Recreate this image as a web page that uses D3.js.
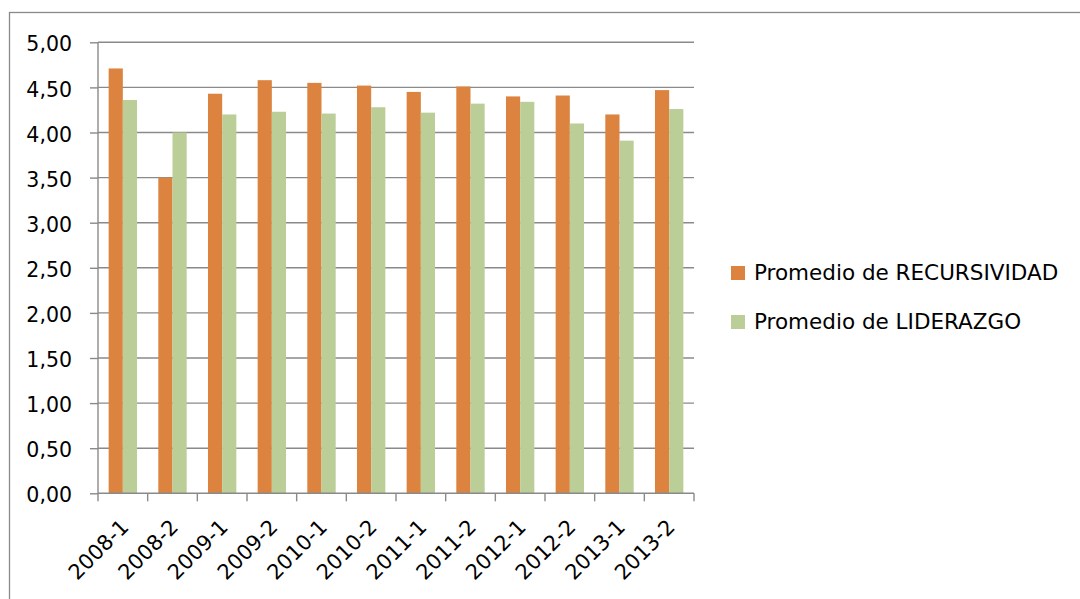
<!DOCTYPE html>
<html>
<head>
<meta charset="utf-8">
<script src="https://cdn.jsdelivr.net/npm/d3@7"></script>
<style>
  html, body { margin: 0; padding: 0; background: #fff; }
  svg { display: block; font-family: "DejaVu Sans", sans-serif; }
</style>
</head>
<body>
<svg id="chart" width="1080" height="599"></svg>
<script>
// Semesters on the category axis
const periods = ["2008-1", "2008-2", "2009-1", "2009-2", "2010-1", "2010-2",
                 "2011-1", "2011-2", "2012-1", "2012-2", "2013-1", "2013-2"];
// Average scores per semester
const recursividad = [4.71, 3.50, 4.43, 4.58, 4.55, 4.52, 4.45, 4.51, 4.40, 4.41, 4.20, 4.47];
const liderazgo    = [4.36, 4.00, 4.20, 4.23, 4.21, 4.28, 4.22, 4.32, 4.34, 4.10, 3.91, 4.26];
const seriesNames  = ["Promedio de RECURSIVIDAD", "Promedio de LIDERAZGO"];
const yTicks = [0, 0.5, 1, 1.5, 2, 2.5, 3, 3.5, 4, 4.5, 5];

const colors = ["#DC843F", "#BBCE97"];
const gridColor = "#8A8A8A";

const svg = d3.select("#chart");
const W = 1080, H = 599;
const plot = { left: 98, right: 694, top: 42.3, bottom: 493.3 };

// chart area border (runs past the right and bottom edges)
svg.append("rect")
  .attr("x", 9.5).attr("y", 12.5)
  .attr("width", W + 20).attr("height", H + 20)
  .attr("fill", "#fff").attr("stroke", gridColor).attr("stroke-width", 1.3);

const x = d3.scaleBand().domain(periods).range([plot.left, plot.right]).paddingInner(0).paddingOuter(0);
const y = d3.scaleLinear().domain([0, 5]).range([plot.bottom, plot.top]);

// Gridlines
svg.append("g")
  .selectAll("line").data(yTicks.filter(d => d > 0)).join("line")
  .attr("x1", plot.left).attr("x2", plot.right)
  .attr("y1", d => y(d)).attr("y2", d => y(d))
  .attr("stroke", gridColor).attr("stroke-width", 1.4);

// Grouped bars
const barW = x.bandwidth() / 3.5;
const groupOffset = (x.bandwidth() - 2 * barW) / 2;
const data = periods.map((p, i) => ({ p, vals: [recursividad[i], liderazgo[i]] }));

const groups = svg.append("g").selectAll("g").data(data).join("g")
  .attr("transform", d => `translate(${x(d.p) + groupOffset},0)`);
groups.selectAll("rect").data(d => d.vals).join("rect")
  .attr("x", (d, i) => i * barW)
  .attr("width", barW)
  .attr("y", d => y(d))
  .attr("height", d => y(0) - y(d))
  .attr("fill", (d, i) => colors[i]);

// Y axis
const yAxis = d3.axisLeft(y).tickValues(yTicks).tickSize(8).tickPadding(18)
  .tickFormat(d => d3.format(".2f")(d).replace(".", ","));
const gy = svg.append("g").attr("transform", `translate(${plot.left},0)`).call(yAxis);
gy.select(".domain").attr("stroke", gridColor).attr("stroke-width", 1.4)
  .attr("d", `M0,${plot.top}V${plot.bottom}`);
gy.selectAll(".tick line").attr("stroke", gridColor).attr("stroke-width", 1.4);
gy.selectAll(".tick text").attr("font-size", 20.5).attr("fill", "#000")
  .attr("dy", "0.42em")
  .attr("font-family", "DejaVu Sans");

// X axis: ticks on category boundaries
const boundaries = periods.map(p => x(p)).concat([plot.right]);
const gx = svg.append("g");
gx.append("line").attr("x1", plot.left).attr("x2", plot.right)
  .attr("y1", plot.bottom).attr("y2", plot.bottom)
  .attr("stroke", gridColor).attr("stroke-width", 1.4);
gx.selectAll("line.tk").data(boundaries).join("line").attr("class", "tk")
  .attr("x1", d => d).attr("x2", d => d)
  .attr("y1", plot.bottom).attr("y2", plot.bottom + 8)
  .attr("stroke", gridColor).attr("stroke-width", 1.4);
gx.selectAll("text").data(periods).join("text")
  .attr("transform", d => `translate(${x(d) + x.bandwidth() / 2 + 7},${plot.bottom + 35}) rotate(-45)`)
  .attr("text-anchor", "end")
  .attr("font-size", 21)
  .attr("fill", "#000")
  .text(d => d);

// Legend
const legend = svg.append("g").attr("transform", "translate(731,266)");
const li = legend.selectAll("g").data(seriesNames).join("g")
  .attr("transform", (d, i) => `translate(0,${i * 49})`);
li.append("rect").attr("width", 14).attr("height", 14).attr("fill", (d, i) => colors[i]);
li.append("text").attr("x", 23).attr("y", 13.5).attr("font-size", 21.5).attr("fill", "#000").text(d => d);
</script>
</body>
</html>
